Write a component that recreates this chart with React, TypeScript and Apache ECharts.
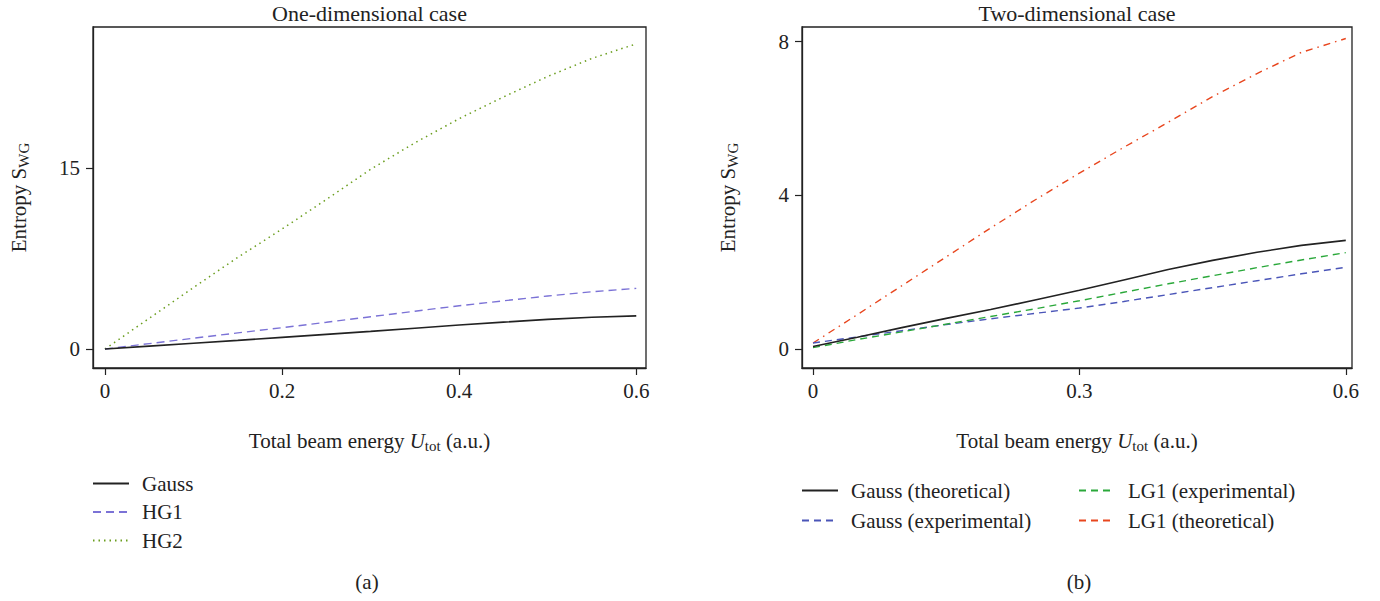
import React, { useEffect, useRef } from "react";
import * as echarts from "echarts";

// ---------- data ----------
const energy = [0, 0.05, 0.1, 0.15, 0.2, 0.25, 0.3, 0.35, 0.4, 0.45, 0.5, 0.55, 0.6];

// (a) one-dimensional case
const gauss1D = [0, 0.24, 0.48, 0.72, 0.97, 1.22, 1.47, 1.73, 1.99, 2.23, 2.46, 2.64, 2.75];
const hg1 = [0, 0.45, 0.9, 1.34, 1.77, 2.22, 2.68, 3.14, 3.59, 4.0, 4.4, 4.75, 5.03];
const hg2 = [0, 2.55, 5.1, 7.6, 9.95, 12.4, 14.9, 17.1, 19.1, 20.9, 22.6, 24.1, 25.3];

// (b) two-dimensional case
const gaussTheo = [0.07, 0.31, 0.56, 0.8, 1.03, 1.28, 1.53, 1.8, 2.07, 2.31, 2.52, 2.7, 2.83];
const gaussExp = [0.16, 0.32, 0.48, 0.64, 0.79, 0.93, 1.07, 1.24, 1.42, 1.6, 1.78, 1.96, 2.13];
const lg1Exp = [0.04, 0.25, 0.45, 0.65, 0.85, 1.05, 1.26, 1.48, 1.7, 1.91, 2.12, 2.32, 2.51];
const lg1Theo = [0.16, 0.9, 1.65, 2.4, 3.15, 3.88, 4.58, 5.25, 5.9, 6.57, 7.17, 7.72, 8.08];

const xTicksA = [0, 0.2, 0.4, 0.6];
const yTicksA = [0, 15];
const xTicksB = [0, 0.3, 0.6];
const yTicksB = [0, 4, 8];

const titleA = "One-dimensional case";
const titleB = "Two-dimensional case";
const panelA = "(a)";
const panelB = "(b)";

// ---------- styles ----------
const FONT = "Liberation Serif";
const INK = "#222";
const FS = 21;

const pairs = (ys: number[]) => energy.map((x, i) => [x, ys[i]]);

const nameRich = {
  t: { fontSize: FS, fontFamily: FONT, color: INK, lineHeight: 24, verticalAlign: "middle" },
  i: { fontSize: FS, fontFamily: FONT, color: INK, fontStyle: "italic", lineHeight: 24, verticalAlign: "middle" },
  s: { fontSize: 15, fontFamily: FONT, color: INK, lineHeight: 8, verticalAlign: "bottom" },
};

function xAxisFor(gridIndex: number, min: number, max: number, ticks: number[]) {
  return {
    type: "value",
    gridIndex,
    min,
    max,
    name: "{t|Total beam energy }{i|U}{s|tot}{t| (a.u.)}",
    nameLocation: "middle",
    nameGap: 61,
    nameTextStyle: { rich: nameRich },
    splitLine: { show: false },
    axisLine: { show: true, onZero: false, lineStyle: { color: INK, width: 1.3 } },
    axisTick: { show: true, length: 7, lineStyle: { color: INK, width: 1.2 }, customValues: ticks },
    axisLabel: {
      customValues: ticks,
      margin: 12,
      fontSize: FS,
      fontFamily: FONT,
      color: INK,
      formatter: (v: number) => String(v),
    },
  };
}

function yAxisFor(gridIndex: number, min: number, max: number, ticks: number[]) {
  return {
    type: "value",
    gridIndex,
    min,
    max,
    name: "{t|Entropy S}{s|WG}",
    nameLocation: "middle",
    nameGap: 62,
    nameTextStyle: { rich: nameRich },
    splitLine: { show: false },
    axisLine: { show: true, onZero: false, lineStyle: { color: INK, width: 1.3 } },
    axisTick: { show: true, length: 7, lineStyle: { color: INK, width: 1.2 }, customValues: ticks },
    axisLabel: {
      customValues: ticks,
      margin: 13,
      fontSize: FS,
      fontFamily: FONT,
      color: INK,
      formatter: (v: number) => String(v),
    },
  };
}

function lineSeries(name: string, gi: number, ys: number[], color: string, type: any, width = 1.4) {
  return {
    name,
    type: "line",
    xAxisIndex: gi,
    yAxisIndex: gi,
    data: pairs(ys),
    smooth: false,
    symbol: "none",
    showSymbol: false,
    color,
    lineStyle: { color, width, type },
  };
}

const legendText = { fontSize: FS, fontFamily: FONT, color: INK, lineHeight: 20, padding: [0, 0, 0, 8] };
const legendCommon = {
  orient: "vertical",
  itemWidth: 36,
  itemHeight: 14,
  padding: 0,
  selectedMode: false,
  itemStyle: { opacity: 0 },
  textStyle: legendText,
};

function label(text: string, x: number, y: number, size: number) {
  return {
    type: "text",
    x,
    y,
    style: {
      text,
      fontSize: size,
      fontFamily: FONT,
      fill: INK,
      textAlign: "center",
      textVerticalAlign: "middle",
    },
  };
}

export default function App() {
  const ref = useRef<HTMLDivElement>(null);

  useEffect(() => {
    if (!ref.current) return;
    const chart = echarts.init(ref.current, null, { renderer: "svg" });
    chart.setOption({
      animation: false,
      backgroundColor: "#ffffff",
      grid: [
        { left: 93, top: 27, width: 553, height: 341, show: true, borderColor: INK, borderWidth: 1.3, containLabel: false },
        { left: 802, top: 27, width: 550, height: 341, show: true, borderColor: INK, borderWidth: 1.3, containLabel: false },
      ],
      xAxis: [xAxisFor(0, -0.0135, 0.611, xTicksA), xAxisFor(1, -0.0124, 0.607, xTicksB)],
      yAxis: [yAxisFor(0, -1.57, 26.7, yTicksA), yAxisFor(1, -0.49, 8.38, yTicksB)],
      legend: [
        { ...legendCommon, data: ["Gauss", "HG1", "HG2"], left: 92, top: 473, itemGap: 7.5 },
        { ...legendCommon, data: ["Gauss (theoretical)", "Gauss (experimental)"], left: 801, top: 480, itemGap: 9 },
        {
          ...legendCommon,
          data: ["LG1 (experimental)", { name: "LG1 (theoretical)", lineStyle: { type: [7, 5] } }],
          left: 1078,
          top: 480,
          itemGap: 9,
        },
      ],
      graphic: [
        label(titleA, 369.5, 13, 22),
        label(titleB, 1077, 13, 22),
        label(panelA, 367, 582, FS),
        label(panelB, 1079, 582, FS),
      ],
      series: [
        lineSeries("HG2", 0, hg2, "#6b9e1f", [1.5, 4], 1.5),
        lineSeries("HG1", 0, hg1, "#7b72d6", [8, 5], 1.4),
        lineSeries("Gauss", 0, gauss1D, INK, "solid", 1.6),
        lineSeries("LG1 (theoretical)", 1, lg1Theo, "#e8461e", [7, 5, 1.5, 5], 1.4),
        lineSeries("Gauss (experimental)", 1, gaussExp, "#4a55b8", [7, 5], 1.4),
        lineSeries("LG1 (experimental)", 1, lg1Exp, "#2aa83a", [7, 5], 1.4),
        lineSeries("Gauss (theoretical)", 1, gaussTheo, INK, "solid", 1.6),
      ],
    });
    return () => chart.dispose();
  }, []);

  return (
    <div
      ref={ref}
      style={{ position: "fixed", left: 0, top: 0, width: 1380, height: 601, background: "#fff" }}
    />
  );
}
